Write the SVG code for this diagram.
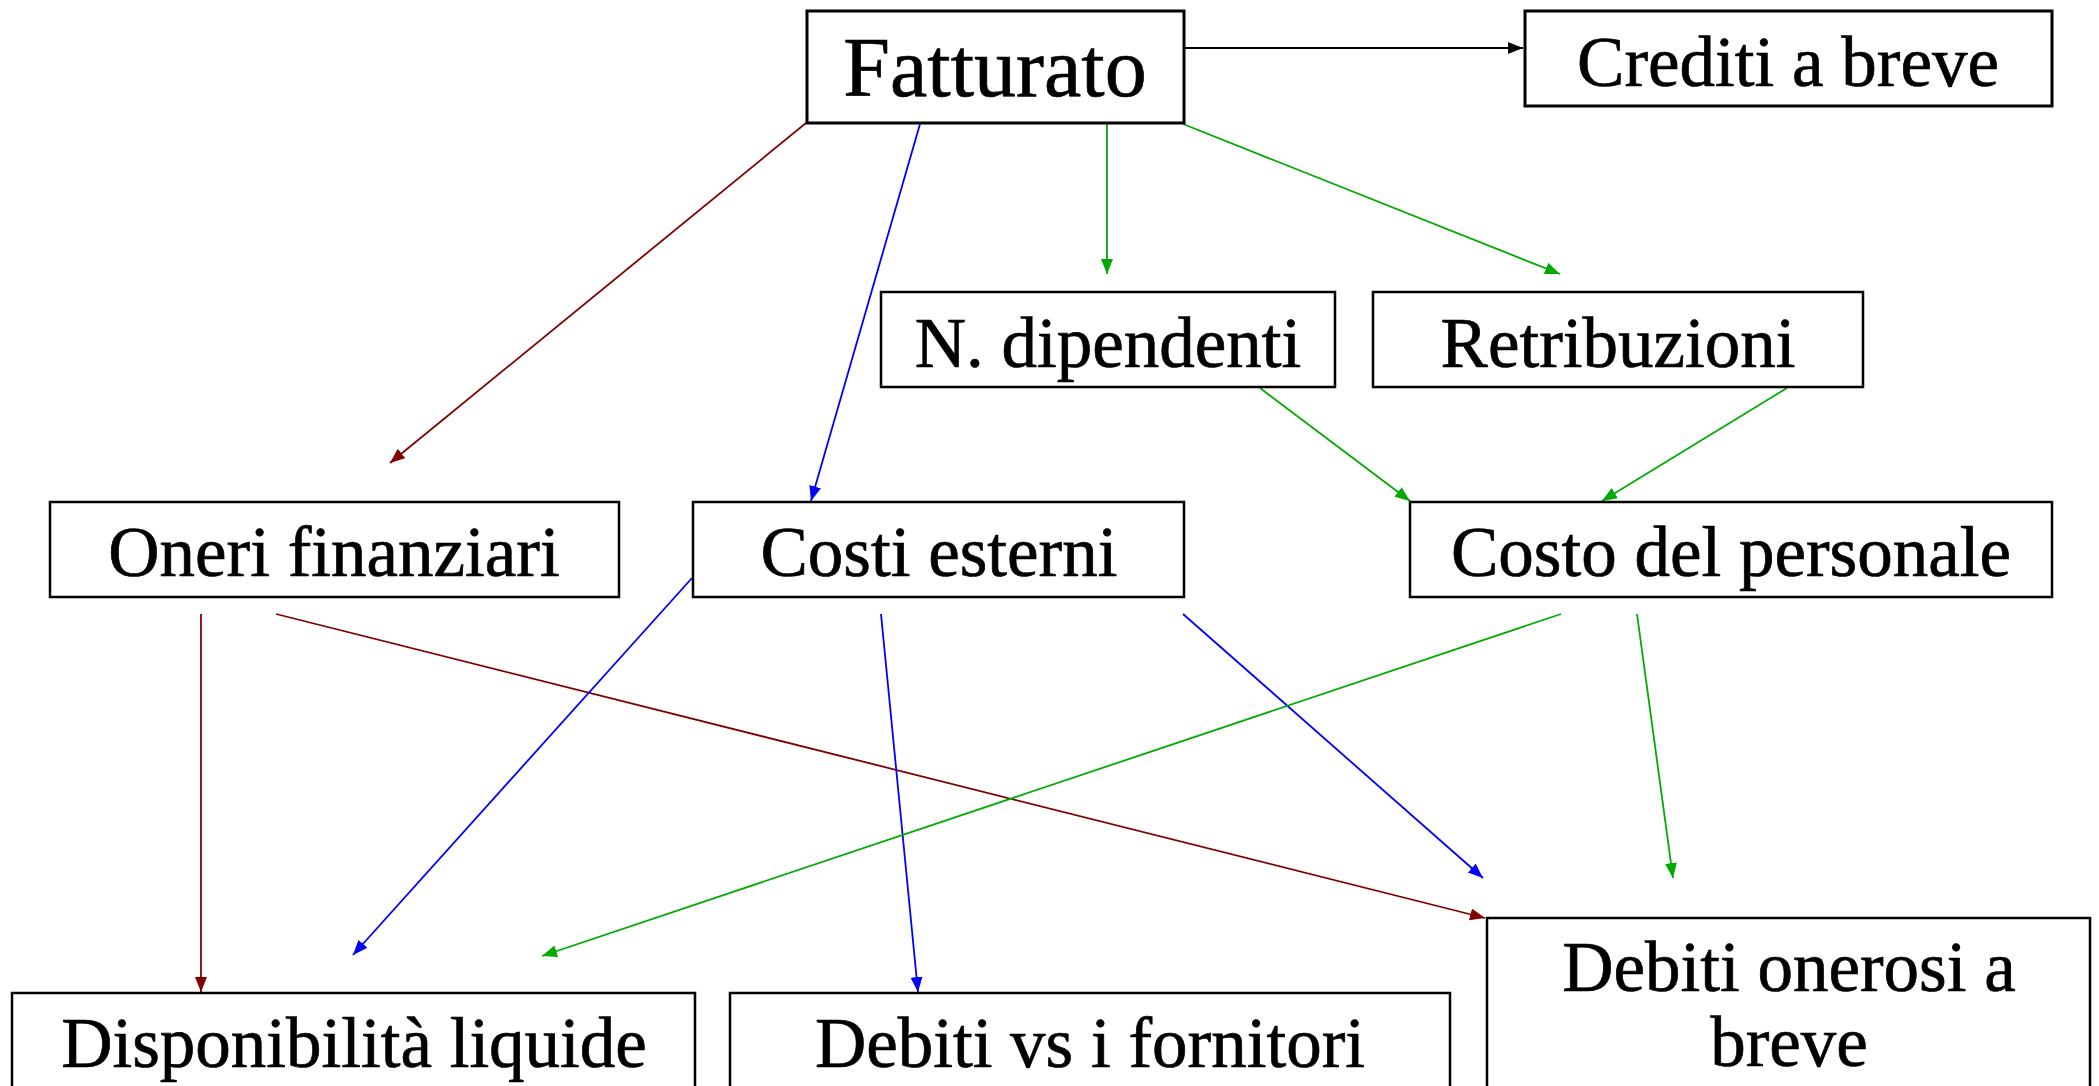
<svg xmlns="http://www.w3.org/2000/svg" width="2099" height="1086" viewBox="0 0 2099 1086">
<style>
.box{fill:#fff;stroke:#000;stroke-width:2.5}
.thick{stroke-width:3}
.t{font-family:"Liberation Serif","Times New Roman",serif;font-size:71px;fill:#000;stroke:#000;stroke-width:0.7;text-anchor:middle}
.big{font-size:84px}
.c{fill:none;stroke-width:1.8}
.k{stroke:#000}
.r{stroke:#800000}
.b{stroke:#0000ff}
.g{stroke:#00aa00}
</style>
<defs>
<marker id="ak" markerUnits="userSpaceOnUse" markerWidth="16" markerHeight="14" refX="15" refY="6" orient="auto"><path d="M0,0 L15,6 L0,12 z" fill="#000"/></marker>
<marker id="ar" markerUnits="userSpaceOnUse" markerWidth="16" markerHeight="14" refX="15" refY="6" orient="auto"><path d="M0,0 L15,6 L0,12 z" fill="#800000"/></marker>
<marker id="ab" markerUnits="userSpaceOnUse" markerWidth="16" markerHeight="14" refX="15" refY="6" orient="auto"><path d="M0,0 L15,6 L0,12 z" fill="#0000ff"/></marker>
<marker id="ag" markerUnits="userSpaceOnUse" markerWidth="16" markerHeight="14" refX="15" refY="6" orient="auto"><path d="M0,0 L15,6 L0,12 z" fill="#00aa00"/></marker>
</defs>
<rect width="2099" height="1086" fill="#fff"/>
<g id="connectors">
<line class="c k" x1="1184" y1="48" x2="1523" y2="48" marker-end="url(#ak)"/>
<line class="c r" x1="806" y1="123" x2="390" y2="463" marker-end="url(#ar)"/>
<line class="c b" x1="920" y1="124" x2="811" y2="501" marker-end="url(#ab)"/>
<line class="c g" x1="1107" y1="124" x2="1107" y2="274" marker-end="url(#ag)"/>
<line class="c g" x1="1183" y1="124" x2="1560" y2="274" marker-end="url(#ag)"/>
<line class="c g" x1="1260" y1="388" x2="1410" y2="501" marker-end="url(#ag)"/>
<line class="c g" x1="1787" y1="388" x2="1602" y2="501" marker-end="url(#ag)"/>
<line class="c r" x1="201" y1="614" x2="201" y2="992" marker-end="url(#ar)"/>
<line class="c r" x1="276" y1="614" x2="1485" y2="918" marker-end="url(#ar)"/>
<line class="c b" x1="692" y1="578" x2="353" y2="955" marker-end="url(#ab)"/>
<line class="c b" x1="881" y1="614" x2="918" y2="992" marker-end="url(#ab)"/>
<line class="c b" x1="1183" y1="614" x2="1483" y2="878" marker-end="url(#ab)"/>
<line class="c g" x1="1561" y1="614" x2="542" y2="956" marker-end="url(#ag)"/>
<line class="c g" x1="1637" y1="614" x2="1673" y2="878" marker-end="url(#ag)"/>
</g>
<g id="fatturato"><rect class="box thick" x="807" y="11" width="377" height="112"/><text class="t big" x="995" y="96">Fatturato</text></g>
<g id="crediti"><rect class="box thick" x="1525" y="11" width="527" height="95"/><text class="t" x="1788" y="86">Crediti a breve</text></g>
<g id="dipendenti"><rect class="box" x="881" y="292" width="454" height="95"/><text class="t" x="1108" y="367">N. dipendenti</text></g>
<g id="retribuzioni"><rect class="box" x="1373" y="292" width="490" height="95"/><text class="t" x="1618" y="367">Retribuzioni</text></g>
<g id="oneri"><rect class="box" x="50" y="502" width="569" height="95"/><text class="t" x="334" y="576">Oneri finanziari</text></g>
<g id="costi"><rect class="box" x="693" y="502" width="491" height="95"/><text class="t" x="939" y="576">Costi esterni</text></g>
<g id="personale"><rect class="box" x="1410" y="502" width="642" height="95"/><text class="t" x="1731" y="576">Costo del personale</text></g>
<g id="disponibilita"><rect class="box" x="12" y="993" width="683" height="120"/><text class="t" x="354" y="1067">Disponibilità liquide</text></g>
<g id="fornitori"><rect class="box" x="730" y="993" width="720" height="120"/><text class="t" x="1090" y="1067">Debiti vs i fornitori</text></g>
<g id="onerosi"><rect class="box" x="1487" y="918" width="603" height="200"/><text class="t" x="1789" y="991">Debiti onerosi a</text><text class="t" x="1789" y="1066">breve</text></g>
</svg>
